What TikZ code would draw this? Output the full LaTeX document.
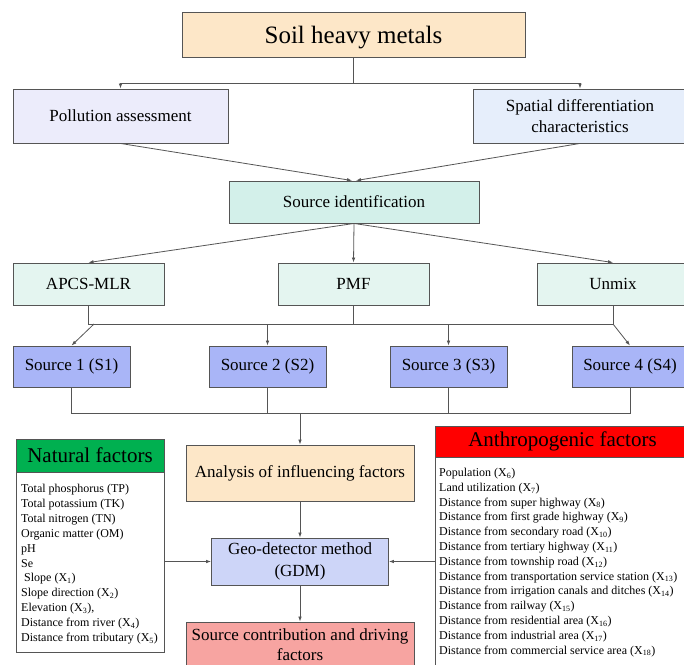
\documentclass[tikz,border=0pt]{standalone}
\usepackage{fontspec}
\setmainfont{Liberation Serif}
\usetikzlibrary{arrows.meta}
\newcommand\setfs[2]{\fontsize{#1}{#2}\selectfont}
\newcommand\Xs[1]{X\textsubscript{#1}}
\definecolor{cSoil}{HTML}{FDE7C8}
\definecolor{cPoll}{HTML}{ECECFB}
\definecolor{cSpat}{HTML}{E6EEFB}
\definecolor{cSrcId}{HTML}{D3F0EA}
\definecolor{cMeth}{HTML}{E4F5F0}
\definecolor{cSrc}{HTML}{A9B5F7}
\definecolor{cGdm}{HTML}{CDD5F8}
\definecolor{cContr}{HTML}{F7A4A1}
\definecolor{cGreen}{HTML}{00B050}
\definecolor{cRed}{HTML}{FF0000}
\definecolor{cLine}{HTML}{555555}
\tikzset{
  box/.style={draw=cLine, line width=0.9pt, inner sep=0pt, align=center, text=black},
  conn/.style={draw=cLine, line width=0.8pt},
  arr/.style={conn, -{Latex[length=5pt,width=3.6pt]}},
  mid/.style={font=\setfs{17}{21}},
  listtxt/.style={inner sep=0pt, align=left, anchor=north west}
}
\begin{document}
\begin{tikzpicture}[x=1pt,y=-1pt]
\clip (0,0) rectangle (684,664);
\fill[white] (0,0) rectangle (684,664);
% top
\node[box, fill=cSoil, minimum width=343, minimum height=45, text depth=0pt, font=\setfs{25}{28}] (soil) at (353.5,34.5) {Soil heavy metals};
\node[box, fill=cPoll, minimum width=215, minimum height=54, mid] (poll) at (120.5,116) {Pollution assessment};
\node[box, fill=cSpat, minimum width=214, minimum height=54, mid] (spat) at (580,116) {Spatial differentiation\\characteristics};
\node[box, fill=cSrcId, minimum width=250, minimum height=42, mid] (srcid) at (354,202) {Source identification};
% methods
\node[box, fill=cMeth, minimum width=151, minimum height=42, mid] (apcs) at (88.5,284) {APCS-MLR};
\node[box, fill=cMeth, minimum width=151, minimum height=42, mid] (pmf) at (353.5,284) {PMF};
\node[box, fill=cMeth, minimum width=152, minimum height=42, mid] (unmix) at (613,284) {Unmix};
% sources
\node[box, fill=cSrc, minimum width=117, minimum height=41, mid] (s1) at (71.5,366.5) {Source 1 (S1)};
\node[box, fill=cSrc, minimum width=117, minimum height=41, mid] (s2) at (267.5,366.5) {Source 2 (S2)};
\node[box, fill=cSrc, minimum width=117, minimum height=41, mid] (s3) at (448.5,366.5) {Source 3 (S3)};
\node[box, fill=cSrc, minimum width=116, minimum height=41, mid] (s4) at (630,366.5) {Source 4 (S4)};
% analysis chain
\node[box, fill=cSoil, minimum width=228, minimum height=56, mid] (anal) at (300,473) {Analysis of influencing factors};
\node[box, fill=cGdm, minimum width=177, minimum height=47, font=\setfs{17}{22}] (gdm) at (300,561.5) {Geo-detector method\\(GDM)};
\node[box, fill=cContr, minimum width=228, minimum height=46, font=\setfs{17}{20}] (contrib) at (300,645) {Source contribution and driving\\factors};
% natural factors
\node[box, fill=cGreen, minimum width=148, minimum height=33, font=\setfs{21}{24}] (nathead) at (90,455.5) {Natural factors};
\node[box, fill=white, minimum width=148, minimum height=180] (natbody) at (90,562) {};
\node[listtxt, font=\setfs{12}{14.9}] (natlist) at (21,484) {Total phosphorus (TP)\\
Total potassium (TK)\\
Total nitrogen (TN)\\
Organic matter (OM)\\
pH\\
Se\\
\hspace*{3pt}Slope (\Xs{1})\\
Slope direction (\Xs{2})\\
Elevation (\Xs{3}),\\
Distance from river (\Xs{4})\\
Distance from tributary (\Xs{5})};
% anthropogenic factors
\node[box, fill=cRed, minimum width=255, minimum height=31, font=\setfs{21}{24}] (anthead) at (562.5,441.5) {Anthropogenic factors};
\node[box, fill=white, minimum width=255, minimum height=215] (antbody) at (562.5,564.5) {};
\node[listtxt, font=\setfs{12}{14.8}] (antlist) at (439,468) {Population (\Xs{6})\\
Land utilization (\Xs{7})\\
Distance from super highway (\Xs{8})\\
Distance from first grade highway (\Xs{9})\\
Distance from secondary road (\Xs{10})\\
Distance from tertiary highway (\Xs{11})\\
Distance from township road (\Xs{12})\\
Distance from transportation service station (\Xs{13})\\
Distance from irrigation canals and ditches (\Xs{14})\\
Distance from railway (\Xs{15})\\
Distance from residential area (\Xs{16})\\
Distance from industrial area (\Xs{17})\\
Distance from commercial service area (\Xs{18})};
% helper coordinates
\coordinate (j0) at (353.5,83);
\coordinate (h1) at (0,324);
\coordinate (h2) at (0,413);
\coordinate (a1) at (94,324);
% connectors
\draw[conn] (soil.south) -- (j0);
\draw[arr] (j0) -| (poll.north);
\draw[arr] (j0) -| (spat.north);
\draw[arr] (poll.south) -- ([xshift=-2pt]srcid.north);
\draw[arr] (spat.south) -- ([xshift=2pt]srcid.north);
\draw[arr] (srcid.south) -- (apcs.north);
\draw[arr] (srcid.south) -- (pmf.north);
\draw[arr] (srcid.south) -- (unmix.north);
\draw[conn] (apcs.south) -- (apcs.south |- h1) -- (unmix.south |- h1) -- (unmix.south);
\draw[conn] (pmf.south) -- (pmf.south |- h1);
\draw[arr] (a1) -- (s1.north);
\draw[arr] (s2.north |- h1) -- (s2.north);
\draw[arr] (s3.north |- h1) -- (s3.north);
\draw[arr] (unmix.south |- h1) -- (s4.north);
\draw[conn] (s1.south) -- (s1.south |- h2) -- (s4.south |- h2) -- (s4.south);
\draw[conn] (s2.south) -- (s2.south |- h2);
\draw[conn] (s3.south) -- (s3.south |- h2);
\draw[arr] (anal.north |- h2) -- (anal.north);
\draw[arr] (anal.south) -- (gdm.north);
\draw[arr] (gdm.south) -- (contrib.north);
\draw[arr] (natbody.east |- gdm.west) -- (gdm.west);
\draw[arr] (antbody.west |- gdm.east) -- (gdm.east);
\end{tikzpicture}
\end{document}
